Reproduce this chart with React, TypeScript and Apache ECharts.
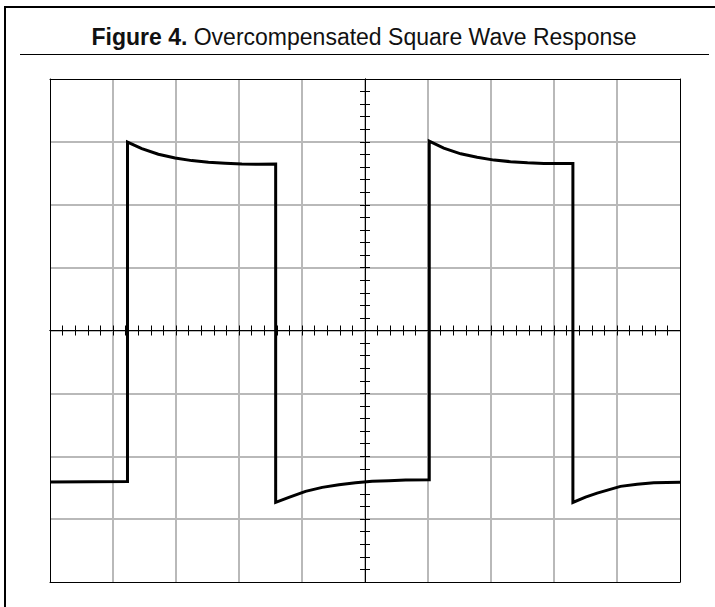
import React, { useEffect, useRef } from "react";
import * as echarts from "echarts";

const TITLE_BOLD = "Figure 4.";
const TITLE_REST = "Overcompensated Square Wave Response";

// screen divisions: 10 horizontal (centred on 0), 8 vertical
const X_MIN = -5;
const X_MAX = 5;
const Y_MIN = -4;
const Y_MAX = 4;
const MINOR_PER_DIV = 5;

// waveform, in screen divisions
const waveX = [
  -5, -3.77, -3.77, -3.543, -3.28, -3.014, -2.749, -2.485, -2.22, -1.955, -1.691, -1.418,
  -1.418, -1.208, -0.944, -0.679, -0.414, -0.15, 0.115, 0.38, 0.644, 1.02,
  1.02, 1.25, 1.52, 1.78, 2.05, 2.31, 2.58, 2.84, 3.1, 3.3,
  3.3, 3.5, 3.685, 4.055, 4.32, 4.584, 5.0,
];
const waveY = [
  -2.41, -2.4, 2.995, 2.893, 2.804, 2.745, 2.702, 2.676, 2.66, 2.649, 2.644, 2.649,
  -2.734, -2.654, -2.558, -2.495, -2.453, -2.422, -2.399, -2.39, -2.379, -2.374,
  3.01, 2.9, 2.81, 2.755, 2.71, 2.685, 2.668, 2.658, 2.655, 2.655,
  -2.734, -2.65, -2.587, -2.479, -2.445, -2.422, -2.415,
];

const FONT = '"Liberation Sans", Arial, Helvetica, sans-serif';
const GRID_COLOR = "#b9b9b9";

export default function App() {
  const ref = useRef<HTMLDivElement>(null);

  useEffect(() => {
    if (!ref.current) return;
    const chart = echarts.init(ref.current, null, { renderer: "svg" });
    const data = waveX.map((x, i) => [x, waveY[i]]);

    const borderAxis = (position: string, split: boolean) => ({
      type: "value",
      position,
      axisLine: { show: true, onZero: false, lineStyle: { color: "#000", width: 1 } },
      axisTick: { show: false },
      axisLabel: { show: false },
      splitLine: {
        show: split,
        showMinLine: false,
        showMaxLine: false,
        lineStyle: { color: GRID_COLOR, width: 2 },
      },
    });
    const centerAxis = (position: string) => ({
      type: "value",
      position,
      axisLine: {
        show: true,
        onZero: true,
        onZeroAxisIndex: 0,
        lineStyle: { color: "#000", width: 1 },
      },
      axisTick: { show: true, length: 5, lineStyle: { color: "#000", width: 1 } },
      minorTick: {
        show: true,
        splitNumber: MINOR_PER_DIV,
        length: 5,
        lineStyle: { color: "#000", width: 1 },
      },
      axisLabel: { show: false },
      splitLine: { show: false },
    });

    const xAxes = [
      borderAxis("bottom", true),
      borderAxis("top", false),
      centerAxis("bottom"),
      centerAxis("top"),
    ].map((a) => ({ ...a, min: X_MIN, max: X_MAX, interval: 1 }));
    const yAxes = [
      borderAxis("left", true),
      borderAxis("right", false),
      centerAxis("left"),
      centerAxis("right"),
    ].map((a) => ({ ...a, min: Y_MIN, max: Y_MAX, interval: 1 }));

    chart.setOption({
      animation: false,
      backgroundColor: "#fff",
      grid: { left: 50, top: 79, right: 35, bottom: 25, containLabel: false },
      xAxis: xAxes,
      yAxis: yAxes,
      series: [
        {
          type: "line",
          xAxisIndex: 0,
          yAxisIndex: 0,
          data,
          showSymbol: false,
          symbol: "none",
          smooth: false,
          clip: true,
          z: 5,
          lineStyle: { color: "#000", width: 3, join: "miter", cap: "butt" },
        },
      ],
      graphic: [
        {
          type: "line",
          shape: { x1: 4, y1: 7, x2: 715, y2: 7 },
          style: { stroke: "#000", lineWidth: 2 },
        },
        {
          type: "line",
          shape: { x1: 5, y1: 6, x2: 5, y2: 607 },
          style: { stroke: "#000", lineWidth: 2 },
        },
        {
          type: "line",
          shape: { x1: 20, y1: 54.5, x2: 709, y2: 54.5 },
          style: { stroke: "#000", lineWidth: 1 },
        },
        {
          type: "text",
          x: 364,
          y: 37,
          style: {
            text: `{b|${TITLE_BOLD}} ${TITLE_REST}`,
            fontFamily: FONT,
            fontSize: 23,
            fill: "#111",
            align: "center",
            verticalAlign: "middle",
            rich: {
              b: { fontFamily: FONT, fontSize: 23, fontWeight: "bold", fill: "#111" },
            },
          },
        },
      ],
    });

    return () => chart.dispose();
  }, []);

  return (
    <div
      ref={ref}
      style={{
        position: "fixed",
        left: 0,
        top: 0,
        width: 715,
        height: 607,
        background: "#fff",
      }}
    />
  );
}
